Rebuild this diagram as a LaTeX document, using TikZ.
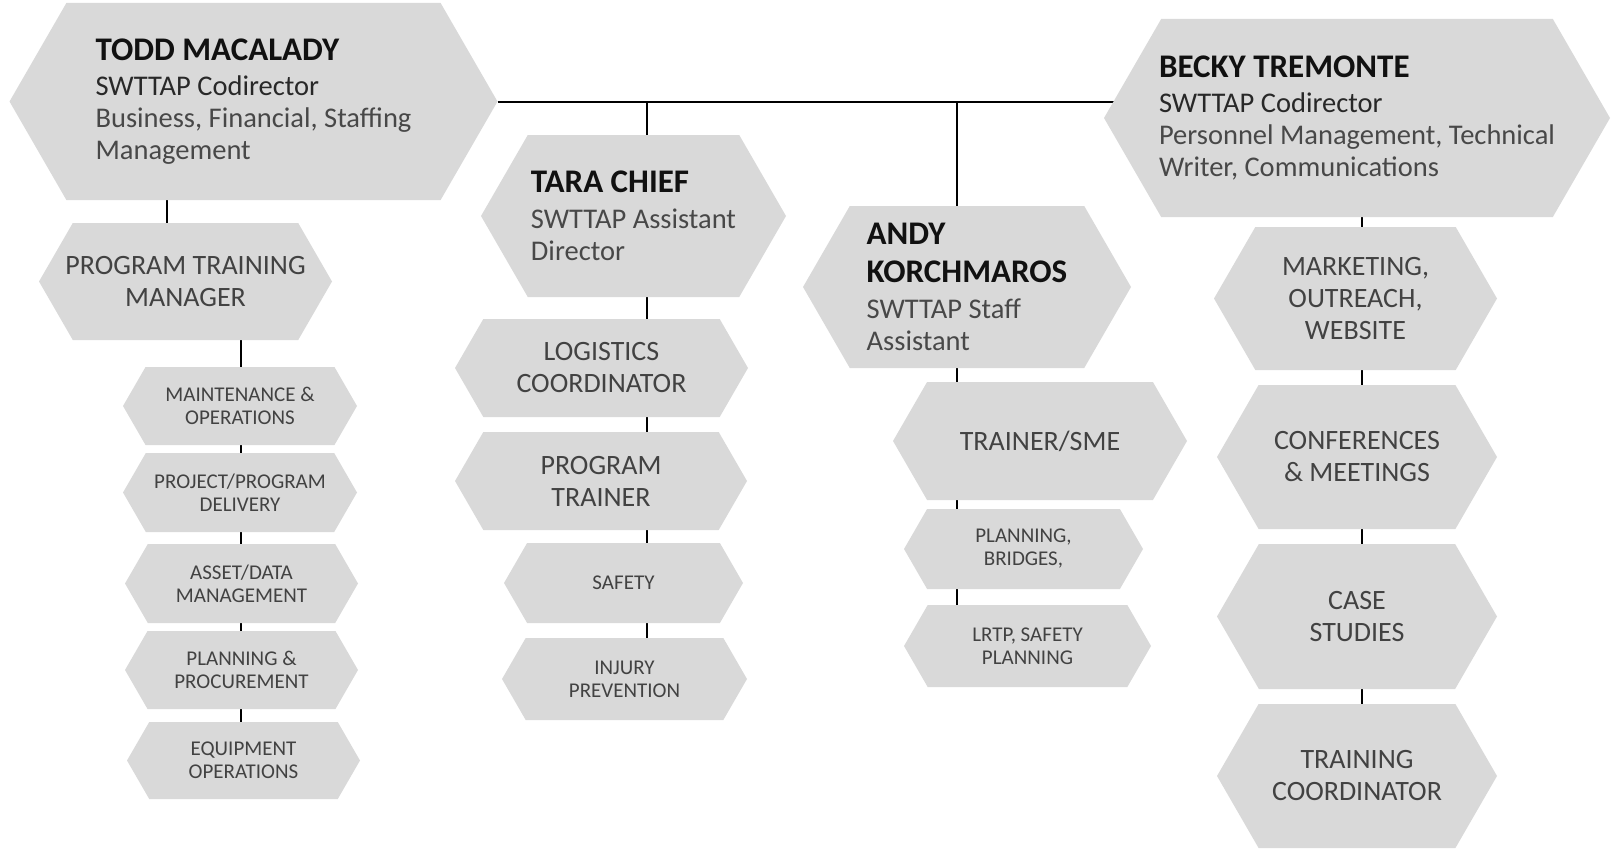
\documentclass[tikz,border=0pt]{standalone}
\usepackage{fontspec}
\setmainfont{Carlito}
\definecolor{hexgray}{RGB}{217, 217, 217}
\definecolor{inkname}{RGB}{17, 17, 17}
\definecolor{inkrole}{RGB}{40, 40, 40}
\definecolor{inkdesc}{RGB}{72, 72, 72}
\definecolor{inkunit}{RGB}{66, 66, 66}
\usepackage{tikz}
\usetikzlibrary{calc, backgrounds}

\tikzset{
  hexbox/.style 2 args={minimum width=#1pt, minimum height=#2pt, inner sep=0pt, outer sep=0pt,
    path picture={
      \fill[hexgray] let \p1 = ($(path picture bounding box.north)-(path picture bounding box.south)$) in
        ([xshift=0.2887*\y1]path picture bounding box.north west)
        -- ([xshift=-0.2887*\y1]path picture bounding box.north east)
        -- (path picture bounding box.east)
        -- ([xshift=-0.2887*\y1]path picture bounding box.south east)
        -- ([xshift=0.2887*\y1]path picture bounding box.south west)
        -- (path picture bounding box.west) -- cycle;
    }},
  lead/.style={align=left, text=inkrole, font=\fontsize{28.5}{32}\selectfont},
  unit/.style={align=center, text=inkunit, font=\fontsize{28}{32}\selectfont},
  subunit/.style={align=center, text=inkunit, font=\fontsize{21}{23}\selectfont},
  link/.style={draw=black, line width=2pt}
}
\newcommand{\leadname}[1]{\textcolor{inkname}{\fontsize{33}{36}\selectfont\textbf{#1}}}

\begin{document}
\begin{tikzpicture}[x=1pt, y=-1pt]
  \useasboundingbox (0, 0) rectangle (1614, 851);

  % Codirector, business side
  \node[hexbox={488}{197}, lead] (todd) at (253.5, 101.5) {
    \leadname{TODD MACALADY}\\[3pt]
    SWTTAP Codirector\\
    \textcolor{inkdesc}{Business, Financial, Staffing}\\
    \textcolor{inkdesc}{Management}
  };
  \node[hexbox={293}{117}, unit] (ptm) at (185.5, 281.5) {PROGRAM TRAINING\\MANAGER};
  \node[hexbox={234}{78}, subunit] (maint) at (240, 406) {MAINTENANCE \&\\OPERATIONS};
  \node[hexbox={234}{79}, subunit] (projdel) at (240, 492.5) {PROJECT/PROGRAM\\DELIVERY};
  \node[hexbox={233}{79}, subunit] (asset) at (241.5, 583.5) {ASSET/DATA\\MANAGEMENT};
  \node[hexbox={233}{78}, subunit] (planproc) at (241.5, 670) {PLANNING \&\\PROCUREMENT};
  \node[hexbox={233}{77}, subunit] (equip) at (243.5, 760.5) {EQUIPMENT\\OPERATIONS};

  % Assistant director
  \node[hexbox={305}{162}, lead] (tara) at (633.5, 216) {
    \leadname{TARA CHIEF}\\[4pt]
    \textcolor{inkdesc}{SWTTAP Assistant}\\
    \textcolor{inkdesc}{Director}
  };
  \node[hexbox={293}{98}, unit] (logist) at (601.5, 368) {LOGISTICS\\COORDINATOR};
  \node[hexbox={292}{98}, unit] (progtr) at (601, 481) {PROGRAM\\TRAINER};
  \node[hexbox={239}{80}, subunit] (safety) at (623.5, 583) {SAFETY};
  \node[hexbox={245}{82}, subunit] (injury) at (624.5, 679) {INJURY\\PREVENTION};

  % Staff assistant
  \node[hexbox={328}{162}, lead] (andy) at (967, 287) {
    \leadname{ANDY}\\[6pt]
    \leadname{KORCHMAROS}\\[4pt]
    \textcolor{inkdesc}{SWTTAP Staff}\\
    \textcolor{inkdesc}{Assistant}
  };
  \node[hexbox={294}{118}, unit] (trainer) at (1040, 441) {TRAINER/SME};
  \node[hexbox={239}{80}, subunit] (planbr) at (1023.5, 549) {PLANNING,\\BRIDGES,};
  \node[hexbox={247}{82}, subunit] (lrtp) at (1027.5, 646) {LRTP, SAFETY\\PLANNING};

  % Codirector, personnel side
  \node[hexbox={506}{198}, lead] (becky) at (1357, 118) {
    \leadname{BECKY TREMONTE}\\[3pt]
    SWTTAP Codirector\\
    \textcolor{inkdesc}{Personnel Management, Technical}\\
    \textcolor{inkdesc}{Writer, Communications}
  };
  \node[hexbox={283}{143}, unit] (mkt) at (1355.5, 298.5) {MARKETING,\\OUTREACH,\\WEBSITE};
  \node[hexbox={280}{144}, unit] (conf) at (1357, 457) {CONFERENCES\\\& MEETINGS};
  \node[hexbox={280}{145}, unit] (casest) at (1357, 616.5) {CASE\\STUDIES};
  \node[hexbox={280}{144}, unit] (traincoord) at (1357, 776) {TRAINING\\COORDINATOR};

  % connectors
  \coordinate (pspine) at (167, 0);
  \coordinate (lspine) at (241, 0);
  \coordinate (tspine) at (647, 0);
  \coordinate (aspine) at (957, 0);
  \coordinate (bspine) at (1362, 0);
  \begin{scope}[on background layer]
    \draw[link] (todd.east) -- (todd.east -| becky.center);
    \draw[link] (todd.east -| tspine) -- (tara.north -| tspine);
    \draw[link] (todd.east -| aspine) -- (andy.north -| aspine);
    \draw[link] (todd.south -| pspine) -- (ptm.north -| pspine);
    \foreach \up/\down in {ptm/maint, maint/projdel, projdel/asset, asset/planproc, planproc/equip}
      \draw[link] (\up.south -| lspine) -- (\down.north -| lspine);
    \foreach \up/\down in {tara/logist, logist/progtr, progtr/safety, safety/injury}
      \draw[link] (\up.south -| tspine) -- (\down.north -| tspine);
    \foreach \up/\down in {andy/trainer, trainer/planbr, planbr/lrtp}
      \draw[link] (\up.south -| aspine) -- (\down.north -| aspine);
    \foreach \up/\down in {becky/mkt, mkt/conf, conf/casest, casest/traincoord}
      \draw[link] (\up.south -| bspine) -- (\down.north -| bspine);
  \end{scope}
\end{tikzpicture}
\end{document}
